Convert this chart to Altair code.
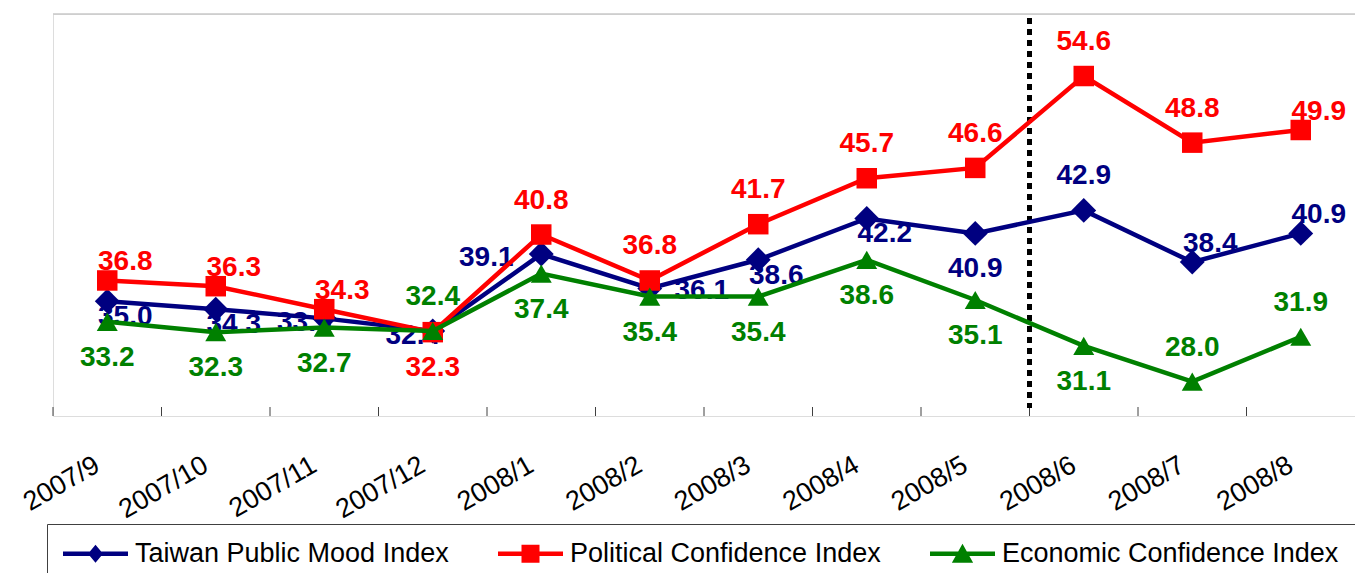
import altair as alt
import pandas as pd

months = ["2007/9", "2007/10", "2007/11", "2007/12", "2008/1", "2008/2",
          "2008/3", "2008/4", "2008/5", "2008/6", "2008/7", "2008/8"]
series_names = ["Taiwan Public Mood Index", "Political Confidence Index",
                "Economic Confidence Index"]
mood = [35.0, 34.3, 33.5, 32.4, 39.1, 36.1, 38.6, 42.2, 40.9, 42.9, 38.4, 40.9]
political = [36.8, 36.3, 34.3, 32.3, 40.8, 36.8, 41.7, 45.7, 46.6, 54.6, 48.8, 49.9]
economic = [33.2, 32.3, 32.7, 32.4, 37.4, 35.4, 35.4, 38.6, 35.1, 31.1, 28.0, 31.9]
# which side of its point each data label sits on
mood_label_side = ["below-right", "below-right", "on-left", "on-left", "left", "right",
                   "below-right", "below-right", "below", "above", "above-right", "above-right"]
political_label_side = ["above-right", "above-right", "above-right", "below", "above", "above",
                        "above", "above", "above", "above", "above", "above-right"]
economic_label_side = ["below", "below", "below", "above", "below", "below",
                       "below", "below", "below", "below", "above", "above"]
divider_month = ["2008/6"]
y_min, y_max = 25, 60
grid_values = [35, 45, 55]

colors = ["#000080", "#FF0000", "#008000"]
marker_shapes = ["diamond", "square", "triangle-up"]

rows = []
for name, vals, sides in zip(series_names, [mood, political, economic],
                             [mood_label_side, political_label_side, economic_label_side]):
    for m, v, s in zip(months, vals, sides):
        rows.append({"month": m, "series": name, "value": v, "side": s})
df = pd.DataFrame(rows)
df_months = pd.DataFrame({"month": months})
df_div = pd.DataFrame({"month": divider_month})
df_top = pd.DataFrame({"v": [y_max]})

FONT = "Liberation Sans"
W, H = 1302, 402

xscale = alt.Scale(type="band", paddingInner=0, paddingOuter=0, domain=months)
x_axis = alt.Axis(title=None, labels=False, ticks=False, domainColor="#404040",
                  domainWidth=1.5, grid=False)
yscale = alt.Scale(domain=[y_min, y_max], nice=False, zero=False)
y_axis = alt.Axis(title=None, values=grid_values, labels=False, ticks=False, grid=True,
                  gridDash=[7, 4], gridColor="#a0a0a0", gridWidth=1,
                  domainColor="black", domainWidth=1.5)

def X(axis=None, **kw):
    return alt.X("month:N", sort=months, scale=xscale, axis=axis, **kw)

def Y(axis=None):
    return alt.Y("value:Q", scale=yscale, axis=axis)

layers = []

base_axes = alt.Chart(df).mark_point(opacity=0).encode(x=X(x_axis), y=Y(y_axis))
layers.append(base_axes)

top_line = alt.Chart(df_top).mark_rule(color="#c8c8c8", strokeWidth=1.5).encode(
    y=alt.Y("v:Q", scale=yscale, axis=None))
layers.append(top_line)

tick_rules = alt.Chart(df_months).mark_rule(color="#404040", strokeWidth=1).encode(
    x=X(bandPosition=0), y=alt.value(H), y2=alt.value(H - 9))
layers.append(tick_rules)

# category labels under the axis, rotated 30 degrees
tick_labels = alt.Chart(df_months).mark_text(
    angle=330, align="right", baseline="top", font=FONT, fontSize=27, color="black",
    dx=-14, dy=-8,
).encode(x=X(), y=alt.value(H + 36), text="month:N")
layers.append(tick_labels)

divider = alt.Chart(df_div).mark_rule(color="black", strokeWidth=5, strokeDash=[6, 5]).encode(
    x=X(bandPosition=0), y=alt.value(4), y2=alt.value(H - 8))
layers.append(divider)

offsets = {"above": (0, -34), "below": (0, 36), "left": (-55, 4), "right": (52, 2),
           "above-right": (18, -18), "below-right": (18, 16), "on-left": (-20, 5)}

for name, col, shp in zip(series_names, colors, marker_shapes):
    sub = alt.Chart(df).transform_filter(alt.datum.series == name)
    layers.append(sub.mark_line(color=col, strokeWidth=4.5).encode(x=X(), y=Y()))
    size = {"diamond": 620, "square": 420, "triangle-up": 440}[shp]
    layers.append(sub.mark_point(shape=shp, filled=True, opacity=1, color=col,
                                 size=size).encode(x=X(), y=Y()))
    for side, (dx, dy) in offsets.items():
        layers.append(
            sub.transform_filter(alt.datum.side == side)
            .mark_text(color=col, font=FONT, fontWeight="bold", fontSize=28,
                       dx=dx, dy=dy, align="center", baseline="middle")
            .encode(x=X(), y=Y(), text=alt.Text("value:Q", format=".1f"))
        )

legend_paths = [
    "M-2.6,-0.18H2.6V0.18H-2.6Z M0,-0.72L0.6,0L0,0.72L-0.6,0Z",
    "M-2.6,-0.18H2.6V0.18H-2.6Z M-0.72,-0.72H0.72V0.72H-0.72Z",
    "M-2.6,-0.18H2.6V0.18H-2.6Z M-0.85,0.72L0,-0.8L0.85,0.72Z",
]
leg = alt.Legend(title=None, orient="none", legendX=-6, legendY=510, direction="horizontal",
                 symbolSize=625, symbolOffset=19, labelOffset=26, columnPadding=49,
                 padding=16, labelFont=FONT, labelFontSize=27, labelColor="black",
                 labelLimit=600, strokeColor="#404040", fillColor="white",
                 symbolStrokeWidth=0, symbolOpacity=1)
legend_layer = alt.Chart(df).transform_filter("false").mark_point(filled=True).encode(
    x=X(), y=Y(),
    color=alt.Color("series:N", scale=alt.Scale(domain=series_names, range=colors),
                    sort=series_names, legend=leg),
    shape=alt.Shape("series:N", scale=alt.Scale(domain=series_names, range=legend_paths),
                    sort=series_names, legend=leg),
)
layers.append(legend_layer)

chart = alt.layer(*layers).properties(
    width=W, height=H,
    padding={"left": 45, "top": 6, "right": 0, "bottom": 157},
    autosize=alt.AutoSizeParams(type="none"),
).configure_view(stroke=None).configure(background="white")

chart.save("out.html", embed_options={"renderer": "svg", "actions": False})
